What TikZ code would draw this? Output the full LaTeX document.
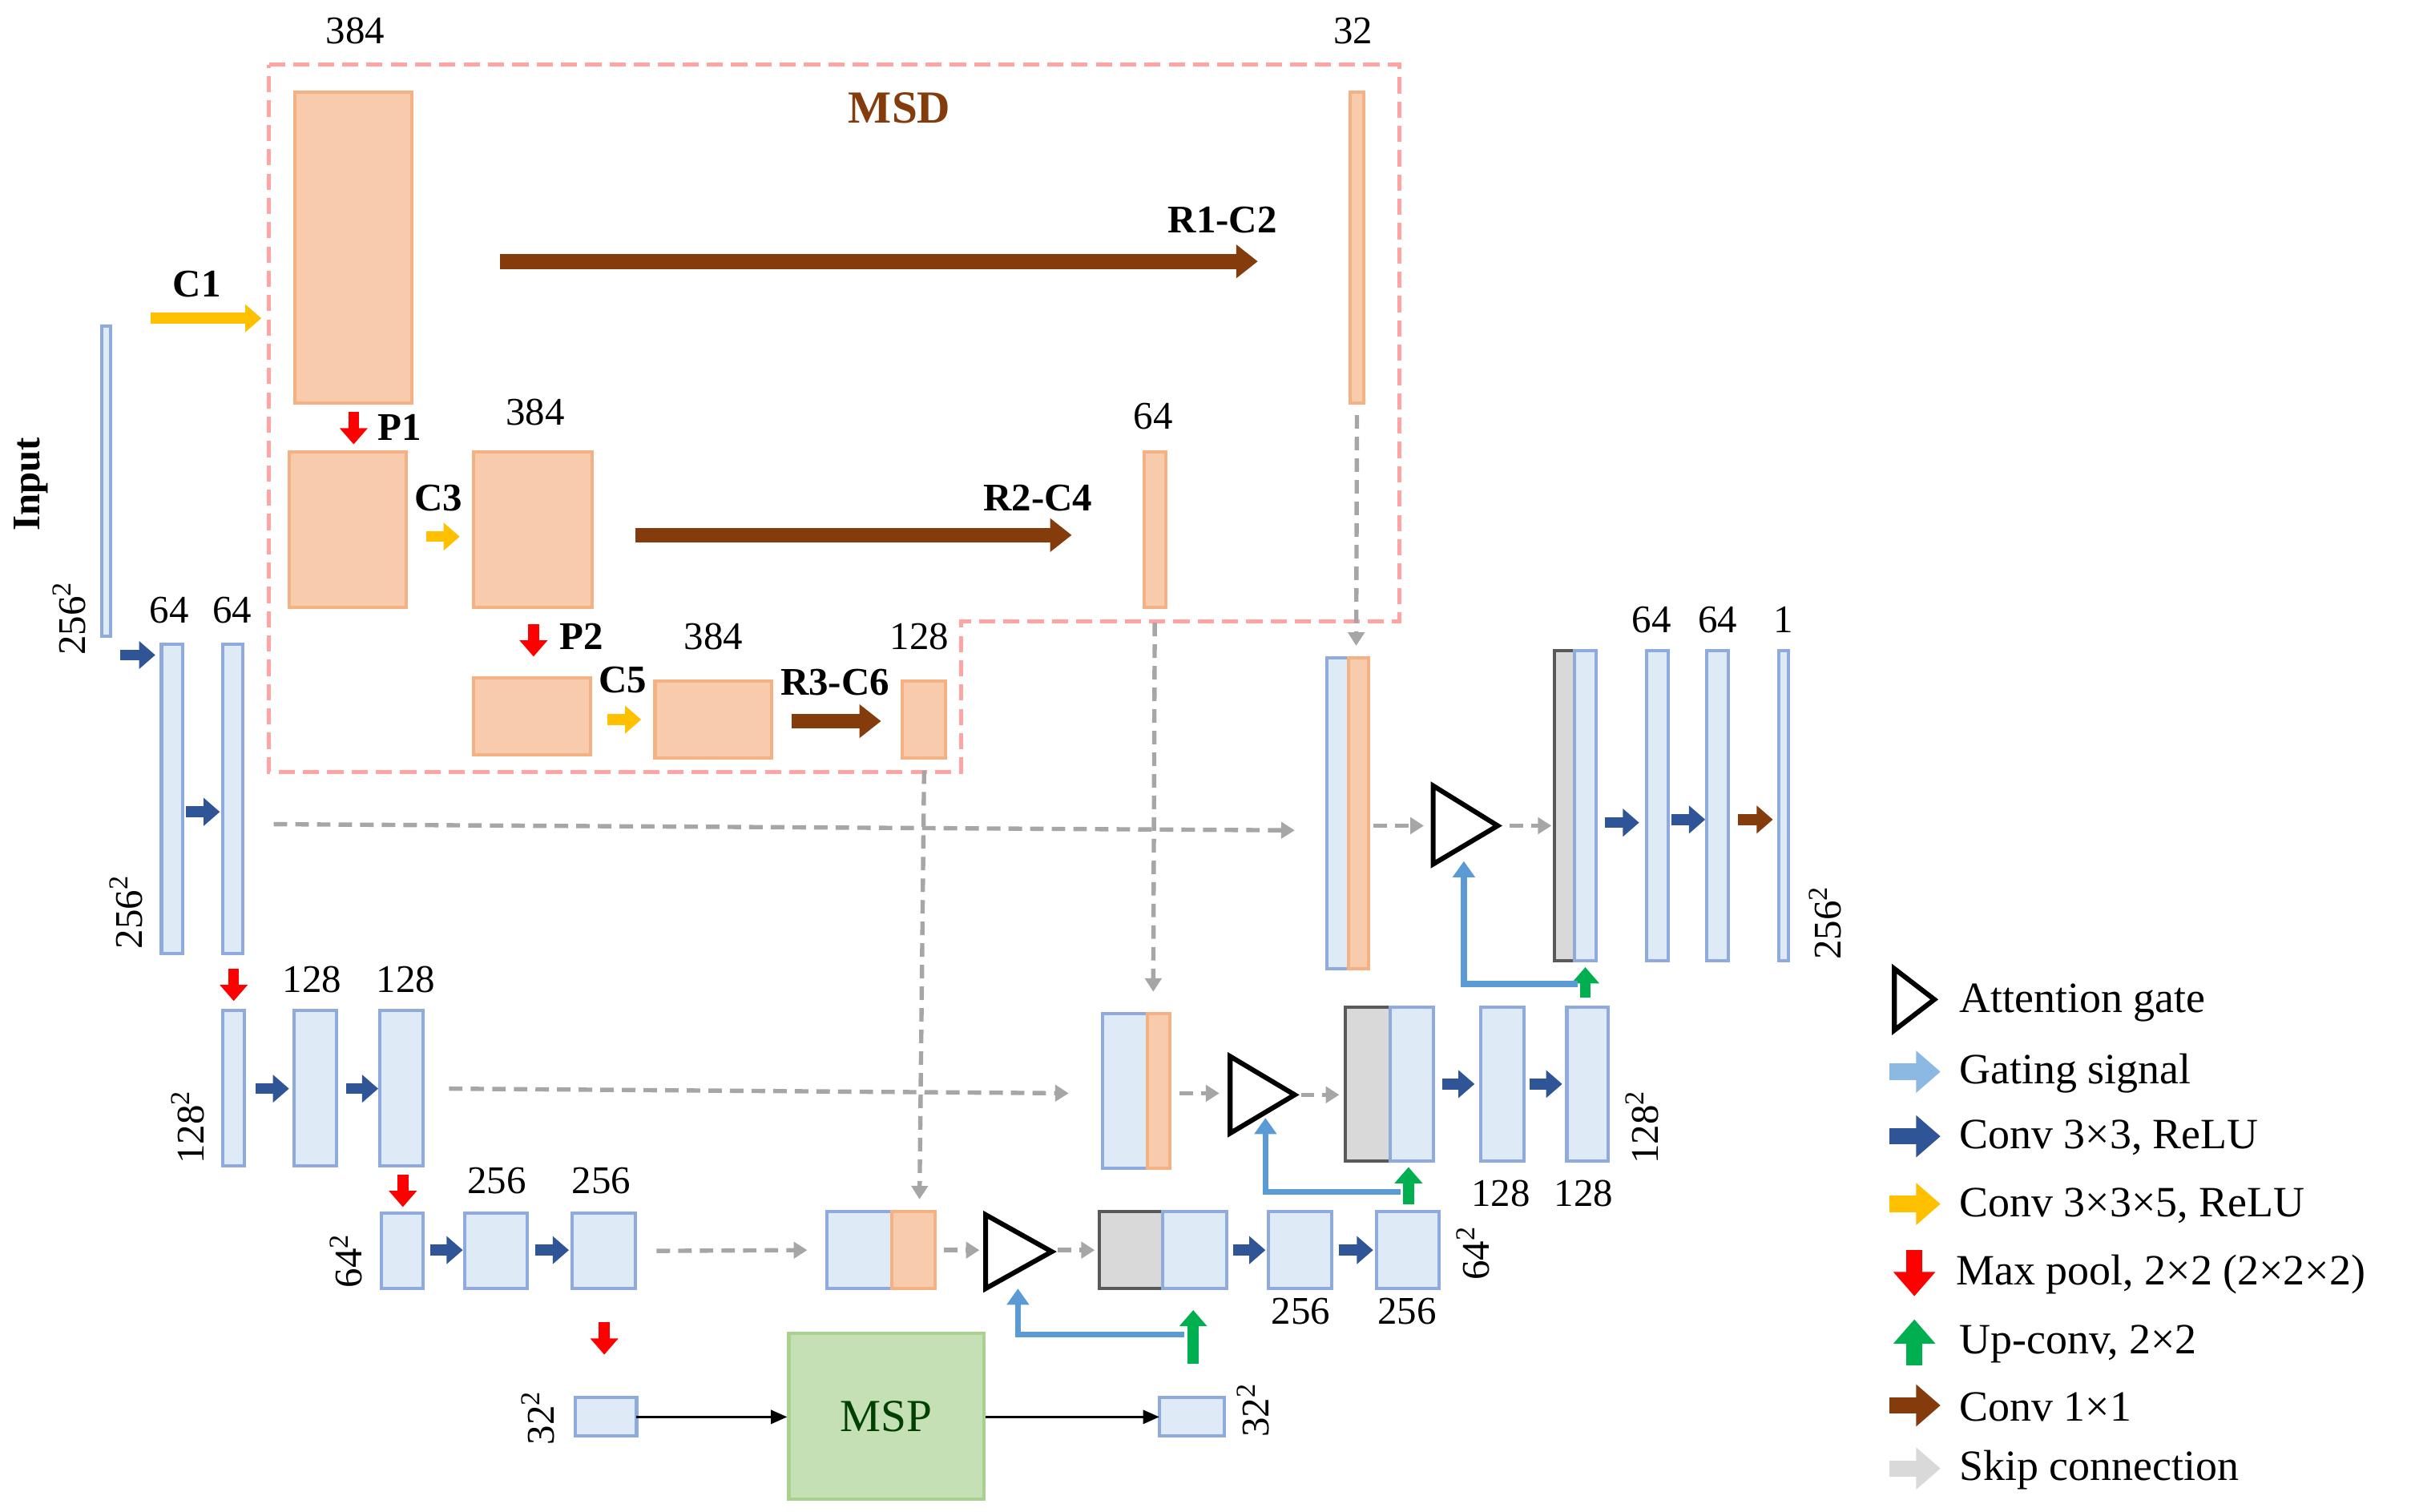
\documentclass[tikz,border=0pt]{standalone}
\usepackage{fontspec}
\setmainfont{Liberation Serif}
\usetikzlibrary{arrows.meta,positioning}

\definecolor{encfill}{HTML}{DEEBF7}
\definecolor{encdraw}{HTML}{8FAADC}
\definecolor{msdfill}{HTML}{F8CBAD}
\definecolor{msddraw}{HTML}{F4B183}
\definecolor{msdline}{HTML}{FFA3A3}
\definecolor{catfill}{HTML}{D9D9D9}
\definecolor{catdraw}{HTML}{595959}
\definecolor{convblue}{HTML}{2F5597}
\definecolor{convyel}{HTML}{FFC000}
\definecolor{poolred}{HTML}{FF0000}
\definecolor{upgreen}{HTML}{00B050}
\definecolor{onebrown}{HTML}{843C0C}
\definecolor{gateblue}{HTML}{5B9BD5}
\definecolor{skipgray}{HTML}{A6A6A6}
\definecolor{mspfill}{HTML}{C5E0B4}
\definecolor{mspdraw}{HTML}{A9D18E}

% box from corner (x1,y1) to corner (x2,y2), in pixel units
\newcommand\bx[6]{%
  \node[#1, minimum width={(#5-#3)*0.02cm}, minimum height={(#6-#4)*0.02cm}]
    (#2) at ({(#3+#5)/2},{(#4+#6)/2}) {};}

\begin{document}
\begin{tikzpicture}[x=0.02cm, y=-0.02cm,
    font=\fontsize{14.5}{16}\selectfont,
    enc/.style={draw=encdraw, fill=encfill, line width=1.2pt, inner sep=0pt, outer sep=0pt},
    msd/.style={draw=msddraw, fill=msdfill, line width=1.2pt, inner sep=0pt, outer sep=0pt},
    cat/.style={draw=catdraw, fill=catfill, line width=1.2pt, inner sep=0pt, outer sep=0pt},
    blk/.style={line width=4pt, -{Triangle[length=6pt,width=10pt]}},
    conv/.style={blk, convblue},
    yel/.style={blk, convyel},
    pool/.style={blk, poolred},
    up/.style={blk, upgreen},
    one/.style={blk, onebrown},
    long/.style={line width=5.5pt, onebrown, -{Triangle[length=8pt,width=12pt]}},
    skip/.style={skipgray, dashed, line width=1.6pt, dash pattern=on 5pt off 3pt, -{Triangle[length=5pt,width=6pt]}},
    gating/.style={gateblue, line width=2.2pt, -{Triangle[length=6pt,width=8pt]}},
    gate/.style={draw=black, line width=1.8pt, fill=white},
    lbl/.style={font=\fontsize{14.5}{16}\selectfont\bfseries},
    leg/.style={anchor=west, font=\fontsize{16}{18}\selectfont}
]
\useasboundingbox (0,0) rectangle (1568,983);

% input and MSD block
\bx{enc}{inp}{66}{212}{72}{414}
\node[lbl, rotate=90] at (20,315) {Input};
\node[rotate=90] at (45,402) {256\textsuperscript{2}};
\draw[yel] (98,207) -- (170,207);
\node[lbl] at (128,185) {C1};
\draw[line width=1.5pt, color=msdline, dashed, dash pattern=on 6pt off 3pt]
  (175,42) -- (910,42) -- (910,404) -- (625,404) -- (625,502) -- (175,502) -- cycle;
\node[font=\fontsize{17}{19}\selectfont\bfseries, text=onebrown] at (585,70) {MSD};

\bx{msd}{a1}{192}{60}{268}{262}
\bx{msd}{a2}{878}{60}{887}{262}
\node at (231,20) {384};
\node at (880,20) {32};
\draw[long] (325,170) -- (818,170);
\node[lbl] at (795,143) {R1-C2};
\draw[pool] (230,268) -- (230,289);
\node[lbl] at (260,278) {P1};

\bx{msd}{b1}{188}{294}{264}{395}
\bx{msd}{b2}{308}{294}{385}{395}
\bx{msd}{b3}{744}{294}{758}{395}
\node[lbl] at (285,324) {C3};
\draw[yel] (277,349) -- (299,349);
\node at (348,268) {384};
\draw[long] (413,348) -- (697,348);
\node[lbl] at (675,324) {R2-C4};
\node at (750,271) {64};
\draw[pool] (347,406) -- (347,427);
\node[lbl] at (378,414) {P2};

\bx{msd}{d1}{308}{441}{384}{491}
\bx{msd}{d2}{426}{443}{502}{493}
\bx{msd}{d3}{587}{443}{615}{493}
\node[lbl] at (405,442) {C5};
\draw[yel] (395,468) -- (417,468);
\node at (464,414) {384};
\draw[long] (515,469) -- (573,469);
\node[lbl] at (543,444) {R3-C6};
\node at (598,414) {128};

% encoder
\bx{enc}{e1}{105}{419}{119}{620}
\bx{enc}{e2}{145}{419}{158}{620}
\node at (110,397) {64};
\node at (151,397) {64};
\draw[conv] (78,426) -- (101,426);
\draw[conv] (121,528) -- (143,528);
\node[rotate=90] at (82,593) {256\textsuperscript{2}};
\draw[pool] (152,630) -- (152,651);

\bx{enc}{f1}{145}{657}{159}{758}
\bx{enc}{f2}{191}{657}{219}{758}
\bx{enc}{f3}{247}{657}{275}{758}
\node[rotate=90] at (122,733) {128\textsuperscript{2}};
\draw[conv] (166,708) -- (188,708);
\draw[conv] (225,708) -- (246,708);
\node at (203,637) {128};
\node at (264,637) {128};
\draw[pool] (262,764) -- (262,785);

\bx{enc}{g1}{248}{789}{275}{838}
\bx{enc}{g2}{302}{789}{343}{838}
\bx{enc}{g3}{372}{789}{413}{838}
\node[rotate=90] at (225,820) {64\textsuperscript{2}};
\draw[conv] (280,813) -- (301,813);
\draw[conv] (348,813) -- (370,813);
\node at (323,768) {256};
\node at (391,768) {256};
\draw[pool] (393,860) -- (393,881);

% bottleneck
\bx{enc}{h1}{374}{909}{414}{934}
\node[draw=mspdraw, fill=mspfill, line width=1.2pt, minimum width=2.54cm, minimum height=2.16cm,
  font=\fontsize{17}{19}\selectfont, text=black!75!green] (msp) at (576.5,921) {MSP};
\bx{enc}{h2}{754}{909}{796}{934}
\node[rotate=90] at (350,922) {32\textsuperscript{2}};
\node[rotate=90] at (815,917) {32\textsuperscript{2}};
\draw[-{Triangle[length=6pt,width=5pt]}, line width=1pt] (h1.east) -- (msp.west |- h1.east);
\draw[-{Triangle[length=6pt,width=5pt]}, line width=1pt] (msp.east |- h2.west) -- (h2.west);

% decoder level 3
\bx{enc}{j1}{538}{788}{580}{838}
\bx{msd}{j2}{580}{788}{608}{838}
\draw[skip] (g3.east) ++(14,0) -- (525,813);
\draw[skip] (d3.south) ++(0,8) -- (598,780);
\draw[skip] (614,813) -- (637,813);
\draw[gate] (641,790) -- (641,838) -- (684,814) -- cycle;
\draw[skip] (688,813) -- (712,813);
\bx{cat}{k1}{715}{788}{756}{838}
\bx{enc}{k2}{756}{788}{798}{838}
\bx{enc}{k3}{825}{788}{866}{838}
\bx{enc}{k4}{895}{788}{936}{838}
\draw[conv] (802,813) -- (823,813);
\draw[conv] (871,813) -- (893,813);
\node at (846,853) {256};
\node at (915,853) {256};
\node[rotate=90] at (958,815) {64\textsuperscript{2}};
\draw[up] (776,887) -- (776,852);
\draw[gating] (770,868) -| (662,838);

% decoder level 2
\bx{enc}{l1}{717}{659}{746}{760}
\bx{msd}{l2}{746}{659}{761}{760}
\draw[skip] (292,708) -- (695,711);
\draw[skip] (b3.south) ++(0,10) -- (750,645);
\draw[skip] (767,711) -- (793,711);
\draw[gate] (800,687) -- (800,737) -- (842,712) -- cycle;
\draw[skip] (846,712) -- (871,712);
\bx{cat}{m1}{875}{655}{904}{755}
\bx{enc}{m2}{904}{655}{932}{755}
\bx{enc}{m3}{963}{655}{991}{755}
\bx{enc}{m4}{1019}{655}{1046}{755}
\draw[conv] (938,705) -- (959,705);
\draw[conv] (995,705) -- (1016,705);
\node at (976,776) {128};
\node at (1030,776) {128};
\node[rotate=90] at (1068,733) {128\textsuperscript{2}};
\draw[up] (916,783) -- (916,759);
\draw[gating] (911,775) -| (823,727);

% decoder level 1
\bx{enc}{n1}{863}{428}{877}{630}
\bx{msd}{n2}{877}{428}{890}{630}
\draw[skip] (178,536) -- (842,540);
\draw[skip] (a2.south) ++(0,8) -- (882,420);
\draw[skip] (893,537) -- (926,537);
\draw[gate] (932,511) -- (932,562) -- (974,537) -- cycle;
\draw[skip] (982,537) -- (1009,537);
\bx{cat}{o1}{1011}{423}{1024}{625}
\bx{enc}{o2}{1024}{423}{1038}{625}
\bx{enc}{o3}{1071}{423}{1085}{625}
\bx{enc}{o4}{1110}{423}{1124}{625}
\bx{enc}{o5}{1157}{423}{1163}{625}
\draw[conv] (1044,535) -- (1066,535);
\draw[conv] (1087,533) -- (1109,533);
\draw[one] (1130,533) -- (1153,533);
\node at (1074,403) {64};
\node at (1117,403) {64};
\node at (1160,403) {1};
\node[rotate=90] at (1187,600) {256\textsuperscript{2}};
\draw[up] (1031,649) -- (1031,629);
\draw[gating] (1026,640) -| (952,560);

% legend
\draw[gate] (1232,630) -- (1232,670) -- (1258,650) -- cycle;
\node[leg] at (1268,652) {Attention gate};
\tikzset{lg/.style={line width=6pt, -{Triangle[length=9pt,width=15pt]}}}
\draw[lg, gateblue!70] (1229,697) -- (1262,697);
\node[leg] at (1268,698) {Gating signal};
\draw[lg, convblue] (1229,739) -- (1262,739);
\node[leg] at (1268,740) {Conv 3×3, ReLU};
\draw[lg, convyel] (1229,783) -- (1262,783);
\node[leg] at (1268,784) {Conv 3×3×5, ReLU};
\draw[lg, poolred] (1245,813) -- (1245,843);
\node[leg] at (1266,829) {Max pool, 2×2 (2×2×2)};
\draw[lg, upgreen] (1245,888) -- (1245,858);
\node[leg] at (1268,874) {Up-conv, 2×2};
\draw[lg, onebrown] (1229,914) -- (1262,914);
\node[leg] at (1268,915) {Conv 1×1};
\draw[lg, catfill] (1229,955) -- (1262,955);
\node[leg] at (1268,956) {Skip connection};
\end{tikzpicture}
\end{document}
